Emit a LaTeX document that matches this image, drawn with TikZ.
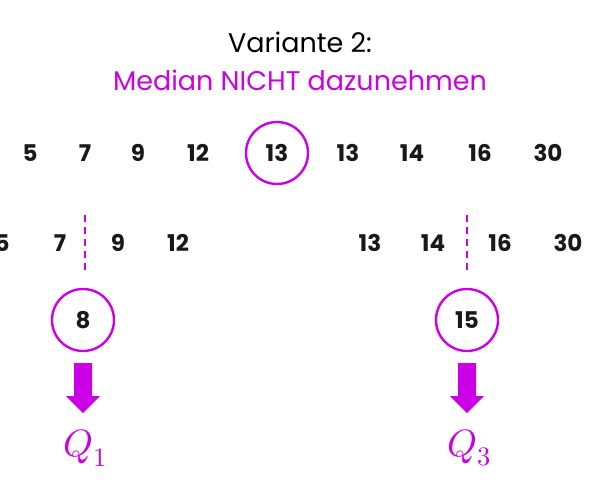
\documentclass[tikz,border=0pt]{standalone}
\usepackage{fontspec}
\setmainfont{Poppins}
\usepackage{unicode-math}
\setmathfont{Latin Modern Math}
\definecolor{mag}{RGB}{204,0,230}
\begin{document}
\begin{tikzpicture}[x=1pt,y=-1pt,
  num/.style={font=\fontsize{23}{26}\selectfont\bfseries, text=black!90},
  circ/.style={num, circle, draw=mag, line width=2.4pt, minimum size=62pt, inner sep=0pt},
  medline/.style={mag, line width=1.4pt, dash pattern=on 7pt off 5pt},
  bigarrow/.style={fill=mag, draw=none},
  qlab/.style={text=mag, font=\fontsize{38}{42}\selectfont}]
\useasboundingbox (0,0) rectangle (600,480);
\node (t1) at (300,42) {\fontsize{27}{30}\selectfont Variante 2:};
\node[text=mag] (t2) at (300,80) {\fontsize{27}{30}\selectfont Median NICHT dazunehmen};
\foreach \v/\x/\n in {5/30/a,7/85/b,9/138/c,12/198/d,13/348/f,14/412/g,16/480/h,30/548/i}
  \node[num] (r1\n) at (\x,153) {\v};
\node[circ] (med) at (277,153) {13};
\foreach \v/\x/\n in {5/2/a,7/60/b,9/118/c,12/178/d,13/370/e,14/433/f,16/500/g,30/568/h}
  \node[num] (r2\n) at (\x,243) {\v};
\coordinate (d1a) at (85,215); \coordinate (d1b) at (85,272);
\coordinate (d2a) at (467,215); \coordinate (d2b) at (467,272);
\draw[medline] (d1a) -- (d1b);
\draw[medline] (d2a) -- (d2b);
\node[circ] (q1c) at (83,320) {8};
\node[circ] (q3c) at (467,320) {15};
\foreach \x in {83,467}
  \fill[bigarrow] (\x-9,363) -- (\x+9,363) -- (\x+9,396) -- (\x+17,396) -- (\x,413) -- (\x-17,396) -- (\x-9,396) -- cycle;
\node[qlab] (q1) at (85,448) {$Q_1$};
\node[qlab] (q3) at (469,448) {$Q_3$};
\end{tikzpicture}
\end{document}
